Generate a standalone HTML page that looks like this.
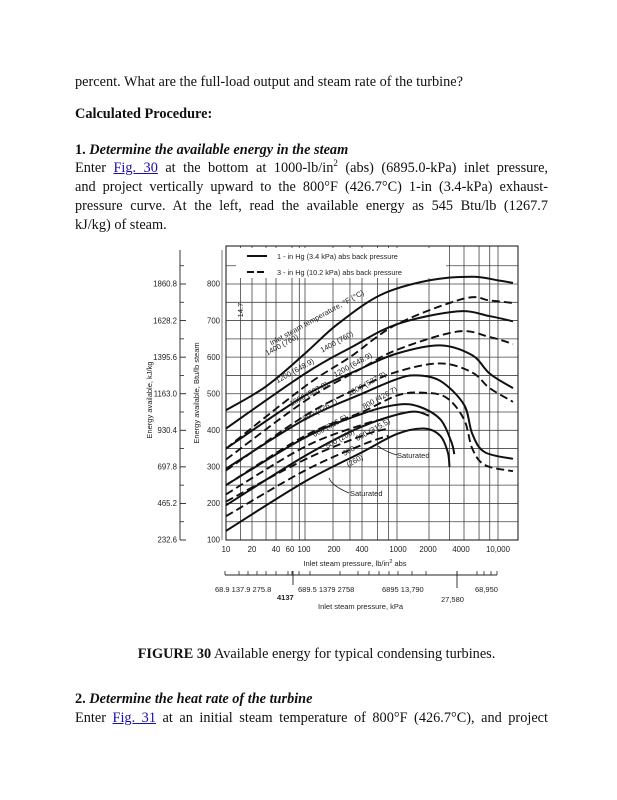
<!DOCTYPE html>
<html><head><meta charset="utf-8">
<style>
body{margin:0;width:617px;height:800px;background:#fff;position:relative;overflow:hidden;font-family:"Liberation Serif",serif;font-size:14.3px;color:#111}
.l{position:absolute;left:75px;width:473px;line-height:19px;white-space:nowrap}
.j{text-align:justify;text-align-last:justify}
a{color:#1a0dab;text-decoration:underline}
svg{position:absolute;left:0;top:0}
svg text{font-family:"Liberation Sans",sans-serif;fill:#222}
</style></head><body>
<div class="l" style="top:73px">percent. What are the full-load output and steam rate of the turbine?</div>
<div class="l" style="top:105px"><b>Calculated Procedure:</b></div>
<div class="l" style="top:141px"><b>1. <i>Determine the available energy in the steam</i></b></div>
<div class="l j" style="top:159px">Enter <a>Fig. 30</a> at the bottom at 1000-lb/in<sup style="font-size:9px;line-height:0">2</sup> (abs) (6895.0-kPa) inlet pressure,</div>
<div class="l j" style="top:178px">and project vertically upward to the 800°F (426.7°C) 1-in (3.4-kPa) exhaust-</div>
<div class="l j" style="top:197px">pressure curve. At the left, read the available energy as 545 Btu/lb (1267.7</div>
<div class="l" style="top:216px">kJ/kg) of steam.</div>
<div class="l" style="top:645px;left:0;width:617px;text-align:center;padding-left:16px;box-sizing:border-box"><b>FIGURE 30</b> Available energy for typical condensing turbines.</div>
<div class="l" style="top:690px"><b>2. <i>Determine the heat rate of the turbine</i></b></div>
<div class="l j" style="top:709px">Enter <a>Fig. 31</a> at an initial steam temperature of 800°F (426.7°C), and project</div>

<svg id="c" width="617" height="800" viewBox="0 0 617 800"></svg>
<script>
const S=document.getElementById('c');let h='';
const A=[[1,226],[Math.log10(20),252],[Math.log10(40),276],[Math.log10(60),292],[2,305],[Math.log10(200),333],[Math.log10(400),362],[3,397],[Math.log10(2000),429],[Math.log10(4000),464],[4,498]];
function X(p){const l=Math.log10(p);for(let i=0;i<A.length-1;i++){if(l<=A[i+1][0]||i==A.length-2){const[a0,x0]=A[i],[a1,x1]=A[i+1];return x0+(l-a0)/(a1-a0)*(x1-x0);}}}
function Y(b){return 540-(b-100)*0.3657;}
const gx=[10,14.7,20,30,40,60,80,100,200,300,400,600,800,1000,2000,3000,4000,6000,8000,10000];
gx.forEach(p=>{const x=X(p);h+=`<line x1="${x}" y1="246" x2="${x}" y2="540" stroke="#444" stroke-width="0.8"/>`;});
for(let b=150;b<=850;b+=50){h+=`<line x1="226" y1="${Y(b)}" x2="518" y2="${Y(b)}" stroke="#444" stroke-width="0.8"/>`;}
h+=`<rect x="226" y="246" width="292" height="294" fill="none" stroke="#222" stroke-width="1.1"/>`;
h+=`<rect x="236" y="248" width="210" height="30" fill="#fff"/>`;
h+=`<line x1="247" y1="256" x2="267" y2="256" stroke="#111" stroke-width="2"/>`;
h+=`<line x1="247" y1="272" x2="267" y2="272" stroke="#111" stroke-width="2" stroke-dasharray="7,3"/>`;
h+=`<text x="277" y="259" font-size="7.3">1 - in  Hg (3.4 kPa) abs back pressure</text>`;
h+=`<text x="277" y="275" font-size="7.3">3 - in  Hg (10.2 kPa) abs back pressure</text>`;
function path(pts){const P=pts.map(([p,b])=>[X(p),Y(b)]);let d=`M${P[0][0].toFixed(1)},${P[0][1].toFixed(1)}`;
for(let i=0;i<P.length-1;i++){const p0=P[i-1]||P[i],p1=P[i],p2=P[i+1],p3=P[i+2]||P[i+1];
const c1=[p1[0]+(p2[0]-p0[0])/6,p1[1]+(p2[1]-p0[1])/6],c2=[p2[0]-(p3[0]-p1[0])/6,p2[1]-(p3[1]-p1[1])/6];
d+=`C${c1[0].toFixed(1)},${c1[1].toFixed(1)} ${c2[0].toFixed(1)},${c2[1].toFixed(1)} ${p2[0].toFixed(1)},${p2[1].toFixed(1)}`;}return d;}
const sol=[
[[10,455],[30,520],[100,610],[220,689],[650,770],[2000,810],[5000,820],[10000,810],[15000,803]],
[[10,405],[100,555],[300,625],[1000,690],[3500,725],[8000,712],[15000,698]],
[[10,350],[100,495],[400,570],[1000,610],[2500,632],[5000,605],[8000,555],[15000,515]],
[[10,295],[100,430],[400,500],[1000,540],[1500,550],[2500,535],[4000,470],[5000,390],[7000,340],[15000,322]],
[[10,250],[100,380],[400,445],[1000,470],[1600,465],[2500,430],[3100,370],[3300,335]],
[[10,195],[100,330],[400,410],[1300,450],[2000,440]],
[[10,125],[100,260],[400,340],[1000,390],[1800,405],[2500,385],[2900,340],[3000,300]]];
const das=[
[[10,350],[100,520],[300,600],[1000,690],[4000,760],[8000,755],[15000,748]],
[[10,320],[100,480],[400,570],[1000,620],[3500,670],[8000,655],[15000,636]],
[[10,290],[100,440],[400,520],[1000,560],[2500,583],[5000,558],[8000,515],[15000,478]],
[[10,250],[100,385],[400,450],[1000,495],[1700,503],[2800,490],[4000,430],[5000,350],[7000,305],[15000,288]],
[[10,225],[100,355],[400,415],[700,430]],
[[10,205],[100,320],[400,385],[800,405]],
[[10,165],[100,290],[400,360],[800,385]]];
sol.forEach(c=>h+=`<path d="${path(c)}" fill="none" stroke="#111" stroke-width="2"/>`);
das.forEach(c=>h+=`<path d="${path(c)}" fill="none" stroke="#111" stroke-width="1.9" stroke-dasharray="8,4"/>`);
h+=`<rect x="519" y="240" width="20" height="310" fill="#fff"/>`;
const L=[["Inlet steam temperature, °F (°C)",318,320],["1400 (760)",283,347],["1200 (648.9)",296,373],["1000 (537.8)",310,396],["800 (426.7)",321,412],["600 (315.5)",331,428],["500 (260)",341,441],["1400 (760)",338,344],["1200 (648.9)",354,367],["1000 (537.8)",368,386],["800 (426.7)",381,400],["600 (315.5)",374,432],["500",350,453],["(260)",356,463]];
L.forEach(([t,x,y])=>h+=`<text x="${x}" y="${y}" font-size="7.5" text-anchor="middle" transform="rotate(-29 ${x} ${y})">${t}</text>`);
h+=`<text x="243" y="310" font-size="7.5" text-anchor="middle" transform="rotate(-90 243 310)">14.7</text>`;
h+=`<text x="397" y="458" font-size="7.5">Saturated</text><text x="350" y="496" font-size="7.5">Saturated</text>`;
h+=`<path d="M397,455 Q386,452 378,446" fill="none" stroke="#111" stroke-width="0.8"/><path d="M349,493 Q332,486 329,478" fill="none" stroke="#111" stroke-width="0.8"/>`;
const bt=[800,700,600,500,400,300,200,100],kj=["1860.8","1628.2","1395.6","1163.0","930.4","697.8","465.2","232.6"];
h+=`<line x1="180" y1="250" x2="180" y2="540" stroke="#222" stroke-width="0.9"/>`;
h+=`<line x1="222" y1="250" x2="222" y2="540" stroke="#222" stroke-width="0.6"/>`;
bt.forEach((b,i)=>{const y=Y(b);h+=`<text x="220" y="${y+2.7}" font-size="7.8" text-anchor="end">${b}</text><text x="177" y="${y+2.7}" font-size="7.8" text-anchor="end">${kj[i]}</text><line x1="180" y1="${y}" x2="186" y2="${y}" stroke="#222" stroke-width="0.9"/>`;
if(b<800)h+=`<line x1="180" y1="${Y(b+50)}" x2="184" y2="${Y(b+50)}" stroke="#222" stroke-width="0.8"/>`;});
h+=`<line x1="180" y1="${Y(850)}" x2="184" y2="${Y(850)}" stroke="#222" stroke-width="0.8"/>`;
h+=`<text x="152" y="400" font-size="7.5" text-anchor="middle" transform="rotate(-90 152 400)">Energy  available,  kJ/kg</text>`;
h+=`<text x="199" y="393" font-size="7.5" text-anchor="middle" transform="rotate(-90 199 393)">Energy  available,   Btu/lb  steam</text>`;
[["10",226],["20",252],["40",276],["60",290],["100",304],["200",334],["400",362],["1000",398],["2000",428],["4000",461],["10,000",498]].forEach(([t,x])=>h+=`<text x="${x}" y="552" font-size="7.8" text-anchor="middle">${t}</text>`);
h+=`<text x="355" y="566" font-size="7.5" text-anchor="middle">Inlet  steam  pressure,  lb/in<tspan font-size="5.5" dy="-3">2</tspan><tspan dy="3"> abs</tspan></text>`;
h+=`<line x1="225" y1="575" x2="497" y2="575" stroke="#222" stroke-width="0.9"/>`;
[225,239,248,257,266,276,288,292,299,310,340,358,369,379,389,398,412,426,457,477,484,491,497].forEach(x=>h+=`<line x1="${x}" y1="571" x2="${x}" y2="575" stroke="#222" stroke-width="0.8"/>`);
h+=`<line x1="293" y1="571" x2="293" y2="585" stroke="#222" stroke-width="0.9"/><line x1="457" y1="571" x2="457" y2="588" stroke="#222" stroke-width="0.9"/>`;
h+=`<text x="215" y="592" font-size="7.5">68.9  137.9  275.8</text><text x="298" y="592" font-size="7.5">689.5  1379   2758</text><text x="382" y="592" font-size="7.5">6895  13,790</text><text x="475" y="592" font-size="7.5">68,950</text>`;
h+=`<text x="277" y="600" font-size="7.5" font-weight="bold">4137</text><text x="441" y="602" font-size="7.5">27,580</text>`;
h+=`<text x="318" y="609" font-size="7.5">Inlet  steam  pressure,  kPa</text>`;
S.innerHTML=h;
</script>
</body></html>
